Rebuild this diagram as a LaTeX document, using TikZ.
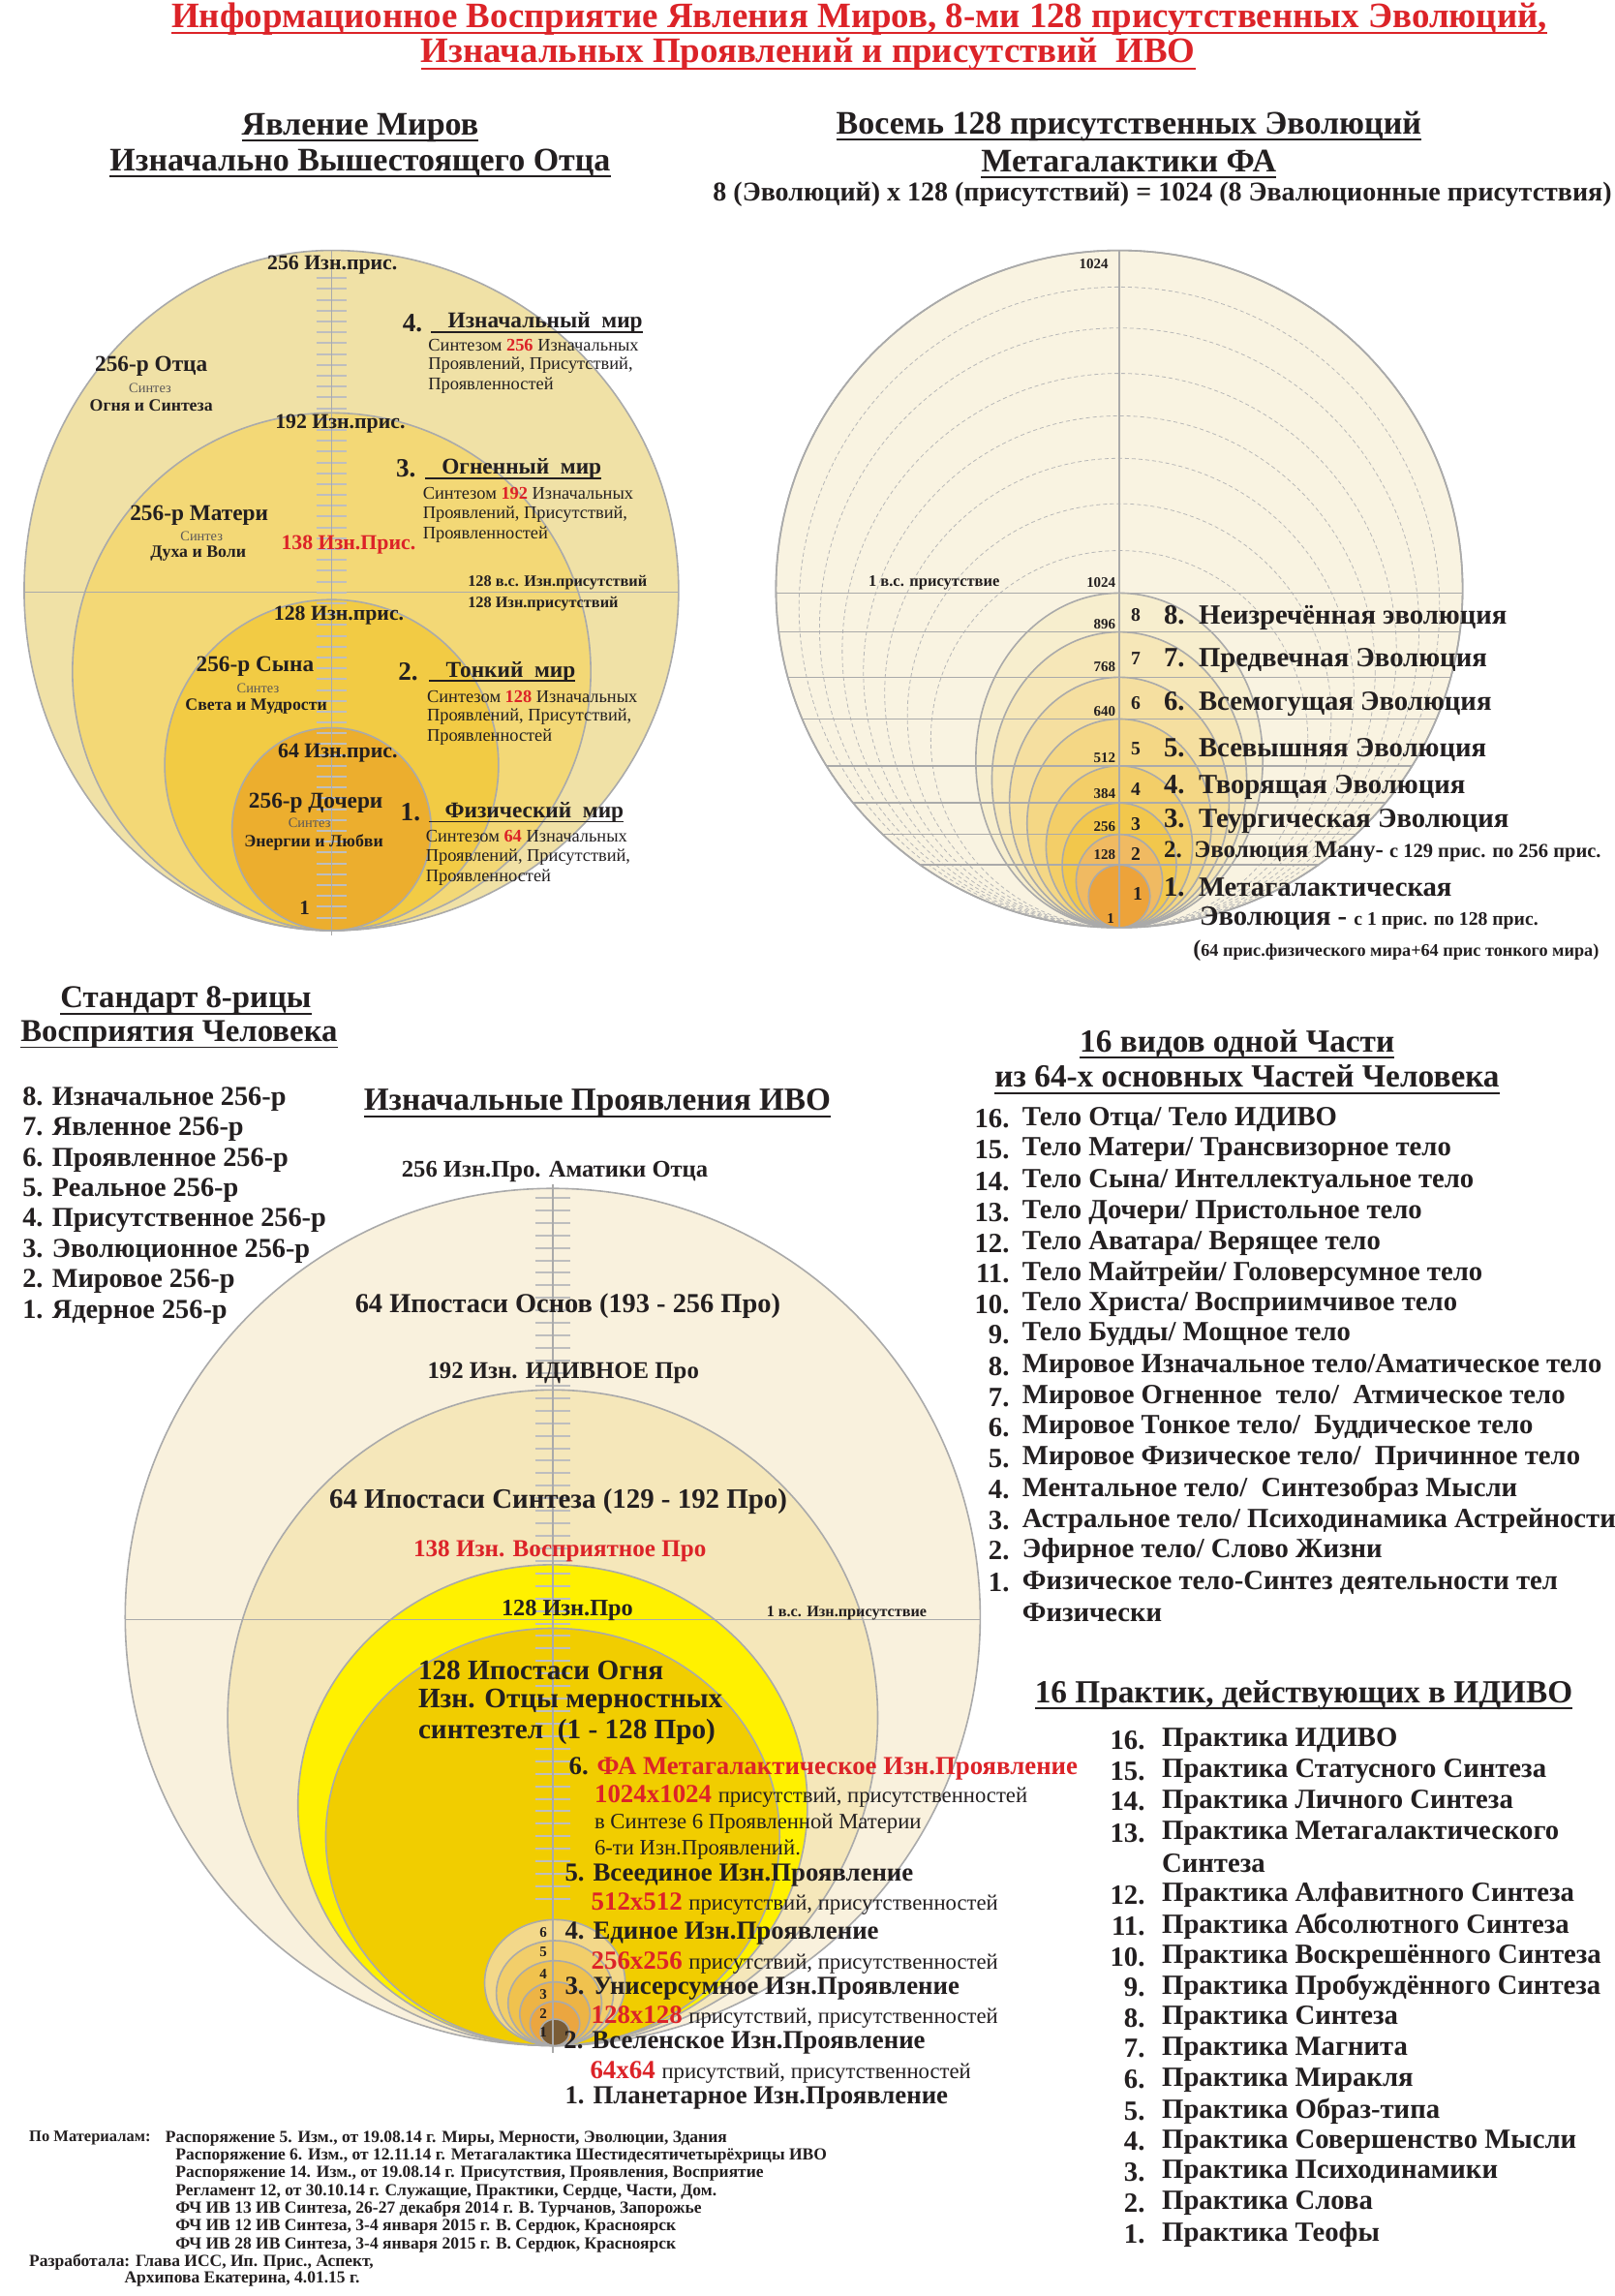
\documentclass[tikz,border=0pt]{standalone}
\usepackage{fontspec}
\setmainfont{Liberation Serif}
\newcommand\fsz[1]{\fontsize{#1}{#1}\selectfont}
\definecolor{ink}{RGB}{35,31,32}
\definecolor{lg}{RGB}{170,170,170}
\definecolor{tk}{RGB}{190,190,190}
\definecolor{rd}{RGB}{220,35,40}
\definecolor{tlA}{RGB}{240,225,166}
\definecolor{tlB}{RGB}{243,216,118}
\definecolor{tlC}{RGB}{242,203,68}
\definecolor{tlD}{RGB}{236,174,46}
\definecolor{trO}{RGB}{249,243,225}
\definecolor{evH}{RGB}{247,238,206}
\definecolor{evG}{RGB}{246,231,184}
\definecolor{evF}{RGB}{245,223,160}
\definecolor{evE}{RGB}{244,215,133}
\definecolor{evD}{RGB}{243,206,104}
\definecolor{evC}{RGB}{242,199,76}
\definecolor{evB}{RGB}{240,186,98}
\definecolor{evA}{RGB}{237,163,58}
\definecolor{lwA}{RGB}{249,241,221}
\definecolor{lwB}{RGB}{245,231,186}
\definecolor{lwY}{RGB}{255,241,0}
\definecolor{lwG}{RGB}{241,205,0}
\definecolor{smF}{RGB}{243,216,138}
\definecolor{smE}{RGB}{242,206,106}
\definecolor{smD}{RGB}{240,194,78}
\definecolor{smC}{RGB}{237,180,69}
\definecolor{smB}{RGB}{235,166,64}
\definecolor{smA}{RGB}{122,92,54}
\begin{document}
\begin{tikzpicture}[x=1.5122pt,y=-1.5122pt,
  every node/.style={inner sep=0pt,outer sep=0pt,text=ink},
  fb/.style={font=\bfseries\fsz{#1}},
  fr/.style={font=\fsz{#1}},
  outl/.style={draw=lg,line width=1.6pt},
  axl/.style={draw=lg,line width=1.6pt},
  tck/.style={draw=tk,line width=2pt},
  ulk/.style={draw=ink,line width=1.8pt},
  ulr/.style={draw=rd,line width=2pt},
  dsh/.style={draw=lg!85,line width=0.8pt,dash pattern=on 4pt off 3pt},
  syn/.style={fr=14.4,text=ink!75}
]
\fill[white] (0,0) rectangle (1103,1568);
\useasboundingbox (0,0) rectangle (1103,1568);

% ================= TITLES =================
\node[fb=36.9,text=rd] (t1) at (587,13) {Информационное Восприятие Явления Миров, 8-ми 128 присутственных Эволюций,};
\node[fb=36.9,text=rd] (t2) at (552,37) {Изначальных Проявлений и присутствий\ \ ИВО};
\draw[ulr] ([yshift=-6pt]t1.base west) -- ([yshift=-6pt]t1.base east);
\draw[ulr] ([yshift=-6pt]t2.base west) -- ([yshift=-6pt]t2.base east);

\node[fb=34] (h1) at (246,87) {Явление Миров};
\node[fb=34] (h2) at (246,111) {Изначально Вышестоящего Отца};
\node[fb=34] (h3) at (771,86) {Восемь 128 присутственных Эволюций};
\node[fb=34] (h4) at (771,110) {Метагалактики ФА};
\node[fb=28] (h5) at (794,133) {8 (Эволюций) х 128 (присутствий) = 1024 (8 Эвалюционные присутствия)};
\foreach \hh in {h1,h2,h3,h4}{\draw[ulk] ([yshift=-6pt]\hh.base west) -- ([yshift=-6pt]\hh.base east);}

% ================= TOP-LEFT: WORLDS =================
\path[fill=tlA,outl] (226.5,171) arc[start angle=-90,end angle=-270,x radius=210,y radius=232.25] arc[start angle=90,end angle=-90,x radius=237,y radius=232.25] -- cycle;
\path[fill=tlB,outl] (226.5,458.75) ellipse[x radius=177,y radius=176.75];
\path[fill=tlC,outl] (226.5,522.5) ellipse[x radius=114,y radius=113];
\path[fill=tlD,outl] (226.5,566.25) ellipse[x radius=68,y radius=69.25];
\draw[axl] (16.5,404.5) -- (463.5,404.5);
\foreach \kk in {0,...,59}{\pgfmathsetmacro\yy{190+7.4*\kk}\draw[tck] (216,\yy) -- (237,\yy);}
\draw[axl] (226.5,171) -- (226.5,639);

\node[fb=21.8] (tl256) at (227,181) {256 Изн.прис.};
\node[fb=21.8] (tl192) at (232.4,289.4) {192 Изн.прис.};
\node[fb=21.8] (tl128) at (231.5,420.2) {128 Изн.прис.};
\node[fb=21.8] (tl64) at (230.7,514) {64 Изн.прис.};
\node[fb=21] (tl1) at (208,620) {1};
\node[fb=21.8,text=rd] (tl138) at (238,372) {138 Изн.Прис.};
\node[fb=16.3,anchor=west] (tlv1) at (319.6,397.7) {128 в.с. Изн.присутствий};
\node[fb=16.3,anchor=west] (tlv2) at (319.6,412.5) {128 Изн.присутствий};

\node[fb=23.3] (f4a) at (103.3,250.4) {256-р Отца};
\node[syn] (f4b) at (102.5,264.8) {Синтез};
\node[fb=17.8] (f4c) at (103.3,277.1) {Огня и Синтеза};
\node[fb=23.3] (f3a) at (136,351.9) {256-р Матери};
\node[syn] (f3b) at (137.7,366.3) {Синтез};
\node[fb=17.8] (f3c) at (135.4,378) {Духа и Воли};
\node[fb=23.3] (f2a) at (174.2,454.9) {256-р Сына};
\node[syn] (f2b) at (176.2,470) {Синтез};
\node[fb=17.8] (f2c) at (175,482.3) {Света и Мудрости};
\node[fb=23.3] (f1a) at (215.7,548.7) {256-р Дочери};
\node[syn] (f1b) at (211.4,562.3) {Синтез};
\node[fb=17.8] (f1c) at (214.3,575.5) {Энергии и Любви};

\node[fb=27.2] (w4n) at (281.7,220.5) {4.};
\node[fb=23.3,anchor=west] (w4) at (306,220.5) {Изначальный\ \ мир};
\draw[ulk] (294.6,227) -- (w4.east |- 0,227);
\node[fr=18.4,anchor=west] (w4l1) at (292.6,235.6) {Синтезом \textcolor{rd}{\textbf{256}} Изначальных};
\node[fr=18.4,anchor=west] (w4l2) at (292.6,249.4) {Проявлений, Присутствий,};
\node[fr=18.4,anchor=west] (w4l3) at (292.6,263.3) {Проявленностей};

\node[fb=27.2] (w3n) at (277.3,320.2) {3.};
\node[fb=23.3,anchor=west] (w3) at (301.8,320.2) {Огненный\ \ мир};
\draw[ulk] (290.3,326.7) -- (w3.east |- 0,326.7);
\node[fr=18.4,anchor=west] (w3l1) at (288.9,337.1) {Синтезом \textcolor{rd}{\textbf{192}} Изначальных};
\node[fr=18.4,anchor=west] (w3l2) at (288.9,351.6) {Проявлений, Присутствий,};
\node[fr=18.4,anchor=west] (w3l3) at (288.9,365.4) {Проявленностей};

\node[fb=27.2] (w2n) at (278.8,458.6) {2.};
\node[fb=23.3,anchor=west] (w2) at (304.6,458.6) {Тонкий\ \ мир};
\draw[ulk] (293.2,465.1) -- (w2.east |- 0,465.1);
\node[fr=18.4,anchor=west] (w2l1) at (291.7,475.5) {Синтезом \textcolor{rd}{\textbf{128}} Изначальных};
\node[fr=18.4,anchor=west] (w2l2) at (291.7,489.4) {Проявлений, Присутствий,};
\node[fr=18.4,anchor=west] (w2l3) at (291.7,503.2) {Проявленностей};

\node[fb=27.2] (w1n) at (280.3,554.6) {1.};
\node[fb=23.3,anchor=west] (w1) at (304,554.6) {Физический\ \ мир};
\draw[ulk] (293.2,561.1) -- (w1.east |- 0,561.1);
\node[fr=18.4,anchor=west] (w1l1) at (290.9,570.9) {Синтезом \textcolor{rd}{\textbf{64}} Изначальных};
\node[fr=18.4,anchor=west] (w1l2) at (290.9,585.3) {Проявлений, Присутствий,};
\node[fr=18.4,anchor=west] (w1l3) at (290.9,599.2) {Проявленностей};

% ================= TOP-RIGHT: EVOLUTIONS =================
\path[fill=trO,outl] (764.5,402.25) ellipse[x radius=234.5,y radius=231.25];
\begin{scope}
\clip (764.5,402.25) ellipse[x radius=234.5,y radius=231.25];
\foreach \tp in {196,224,255,284,313,344,376}{\pgfmathsetmacro\rr{(633.5-\tp)/2}\pgfmathsetmacro\cy{\tp+\rr}\draw[dsh] (764.5,\cy) ellipse[x radius=\rr,y radius=\rr];}
\foreach \tp/\rx/\cc in {405/98/evH,431.6/87/evG,462.5/75/evF,491/63/evE,523/50/evD,548.4/39/evC,569.8/29.5/evB,590.7/21/evA}{\pgfmathsetmacro\ry{(633.5-\tp)/2}\pgfmathsetmacro\cy{\tp+\ry}\path[fill=\cc,outl] (764.5,\cy) ellipse[x radius=\rx,y radius=\ry];}
\foreach \tp in {405,431.6,462.5,491,523,548.4,569.8,590.7}{\draw[axl] (520,\tp) -- (1010,\tp);}
\end{scope}
\draw[outl] (764.5,402.25) ellipse[x radius=234.5,y radius=231.25];
\draw[axl] (764.5,171) -- (764.5,633.5);

\node[fb=15,anchor=east] (e1024a) at (757,180) {1024};
\node[fb=16.5] (evs) at (638,398) {1 в.с. присутствие};
\node[fb=15,anchor=east] (e1024b) at (762,398) {1024};
\node[fb=15,anchor=east] (e896) at (762,426.6) {896};
\node[fb=15,anchor=east] (e768) at (762,455.6) {768};
\node[fb=15,anchor=east] (e640) at (762,486) {640};
\node[fb=15,anchor=east] (e512) at (762,517.6) {512};
\node[fb=15,anchor=east] (e384) at (762,541.8) {384};
\node[fb=15,anchor=east] (e256) at (762,564.3) {256};
\node[fb=15,anchor=east] (e128) at (762,583.7) {128};
\node[fb=15] (e1) at (758.6,627) {1};
\node[fb=19.7] (d8) at (775.7,420) {8};
\node[fb=19.7] (d7) at (775.7,449.7) {7};
\node[fb=19.7] (d6) at (775.7,479.9) {6};
\node[fb=19.7] (d5) at (775.7,511.4) {5};
\node[fb=19.7] (d4) at (775.7,539) {4};
\node[fb=19.7] (d3) at (775.7,562.6) {3};
\node[fb=19.7] (d2) at (775.7,583) {2};
\node[fb=19.7] (d1) at (777,610.6) {1};
\node[fb=28.7,anchor=west] (n8) at (795,422) {8.\ \ Неизречённая эволюция};
\node[fb=28.7,anchor=west] (n7) at (795,451) {7.\ \ Предвечная Эволюция};
\node[fb=28.7,anchor=west] (n6) at (795,481) {6.\ \ Всемогущая Эволюция};
\node[fb=28.7,anchor=west] (n5) at (795,512) {5.\ \ Всевышняя Эволюция};
\node[fb=28.7,anchor=west] (n4) at (795,538) {4.\ \ Творящая Эволюция};
\node[fb=28.7,anchor=west] (n3) at (795,561) {3.\ \ Теургическая Эволюция};
\node[font=\bfseries,anchor=west] (n2) at (795,582) {\fsz{25}2.\ \ Эволюция Ману- \fsz{20.5}с 129 прис. по 256 прис.};
\node[fb=28.7,anchor=west] (n1) at (795,606) {1.\ \ Метагалактическая};
\node[font=\bfseries,anchor=west] (n1b) at (819.5,627) {\fsz{28.7}Эволюция - \fsz{19.7}с 1 прис. по 128 прис.};
\node[font=\bfseries,anchor=west] (n1c) at (815,649) {\fsz{24}(\fsz{18.2}64 прис.физического мира+64 прис тонкого мира)};

% ================= STANDARD 8 =================
\node[fb=32.8] (hs1) at (127,683.4) {Стандарт 8-рицы};
\node[fb=32.8] (hs2) at (122.3,706.5) {Восприятия Человека};
\draw[ulk] ([yshift=-6pt]hs1.base west) -- ([yshift=-6pt]hs1.base east);
\draw[ulk] ([yshift=-6pt]hs2.base west) -- ([yshift=-6pt]hs2.base east);
\node[fb=28.3,anchor=west] (s8) at (15.4,750.6) {8. Изначальное 256-р};
\node[fb=28.3,anchor=west] (s7) at (15.4,771.5) {7. Явленное 256-р};
\node[fb=28.3,anchor=west] (s6) at (15.4,792.4) {6. Проявленное 256-р};
\node[fb=28.3,anchor=west] (s5) at (15.4,813) {5. Реальное 256-р};
\node[fb=28.3,anchor=west] (s4) at (15.4,833.7) {4. Присутственное 256-р};
\node[fb=28.3,anchor=west] (s3) at (15.4,854.6) {3. Эволюционное 256-р};
\node[fb=28.3,anchor=west] (s2) at (15.4,875.1) {2. Мировое 256-р};
\node[fb=28.3,anchor=west] (s1) at (15.4,896) {1. Ядерное 256-р};

% ================= LOWER: MANIFESTATIONS =================
\node[fb=33.3] (hl) at (408,753.5) {Изначальные Проявления ИВО};
\draw[ulk] ([yshift=-6pt]hl.base west) -- ([yshift=-6pt]hl.base east);

\path[fill=lwA,outl] (377.5,1104.3) ellipse[x radius=292,y radius=292.7];
\path[fill=lwB,outl] (377.5,1173.1) ellipse[x radius=222,y radius=223.9];
\path[fill=lwY,outl] (377.5,1232.8) ellipse[x radius=174,y radius=164.2];
\path[fill=lwG,outl] (377.5,1254.5) ellipse[x radius=155,y radius=142.5];
\foreach \tp/\rx/\cc in {1311/48/smF,1325.3/40/smE,1339/32/smD,1353.5/24/smC,1366.8/17/smB,1378.9/10/smA}{\pgfmathsetmacro\ry{(1397-\tp)/2}\pgfmathsetmacro\cy{\tp+\ry}\path[fill=\cc,outl] (379,\cy) ellipse[x radius=\rx,y radius=\ry];}
\draw[axl] (85.5,1106) -- (669.5,1106);
\foreach \kk in {0,...,56}{\pgfmathsetmacro\yy{818+8.55*\kk}\draw[tck] (365.5,\yy) -- (389.5,\yy);}
\draw[axl] (377.5,808.5) -- (377.5,1402);

\node[fb=24.6] (p256) at (379,800) {256 Изн.Про. Аматики Отца};
\node[fb=28.4] (p64a) at (387.8,892.1) {64 Ипостаси Основ (193 - 256 Про)};
\node[fb=24.8] (p192) at (384.7,938) {192 Изн. ИДИВНОЕ Про};
\node[fb=28.9] (p64b) at (381.3,1025.5) {64 Ипостаси Синтеза (129 - 192 Про)};
\node[fb=25.1,text=rd] (p138) at (382.4,1059) {138 Изн. Восприятное Про};
\node[fb=24.3] (p128) at (387.5,1100) {128 Изн.Про};
\node[fb=16.2] (pvs) at (578.3,1102) {1 в.с. Изн.присутствие};
\node[fb=29.2,anchor=west] (pf1) at (285.7,1140.7) {128 Ипостаси Огня};
\node[fb=29.2,anchor=west] (pf2) at (285.7,1161.7) {Изн. Отцы мерностных};
\node[fb=29.2,anchor=west] (pf3) at (285.7,1182.6) {синтезтел\ \ (1 - 128 Про)};

\node[fb=15] (q6) at (371,1320) {6};
\node[fb=15] (q5) at (371,1333) {5};
\node[fb=15] (q4) at (371,1348) {4};
\node[fb=15] (q3) at (371,1362) {3};
\node[fb=15] (q2) at (371,1375.5) {2};
\node[fb=15] (q1) at (371,1387.6) {1};

\node[fb=26.8,anchor=west] (m6) at (388.6,1208) {6. \textcolor{rd}{ФА Метагалактическое Изн.Проявление}};
\node[anchor=west] (m6a) at (406.1,1226.7) {\fsz{26.9}\bfseries\textcolor{rd}{1024x1024} \mdseries\fsz{22.7}присутствий, присутственностей};
\node[fr=22.7,anchor=west] (m6b) at (406.1,1245.4) {в Синтезе 6 Проявленной Материи};
\node[fr=22.7,anchor=west] (m6c) at (406.1,1263) {6-ти Изн.Проявлений.};
\node[fb=26.8,anchor=west] (m5) at (385.9,1280.7) {5. Всеединое Изн.Проявление};
\node[anchor=west] (m5a) at (403.8,1300.5) {\fsz{26.9}\bfseries\textcolor{rd}{512x512} \mdseries\fsz{22.7}присутствий, присутственностей};
\node[fb=26.8,anchor=west] (m4) at (385.9,1320.4) {4. Единое Изн.Проявление};
\node[anchor=west] (m4a) at (403.8,1340.2) {\fsz{26.9}\bfseries\textcolor{rd}{256x256} \mdseries\fsz{22.7}присутствий, присутственностей};
\node[fb=26.8,anchor=west] (m3) at (385.9,1357.8) {3. Унисерсумное Изн.Проявление};
\node[anchor=west] (m3a) at (403.8,1377.7) {\fsz{26.9}\bfseries\textcolor{rd}{128x128} \mdseries\fsz{22.7}присутствий, присутственностей};
\node[fb=26.8,anchor=west] (m2) at (385.2,1395.3) {2. Вселенское Изн.Проявление};
\node[anchor=west] (m2a) at (403.1,1415.1) {\fsz{26.9}\bfseries\textcolor{rd}{64x64} \mdseries\fsz{22.7}присутствий, присутственностей};
\node[fb=26.8,anchor=west] (m1) at (385.9,1432.8) {1. Планетарное Изн.Проявление};

% ================= 16 KINDS =================
\node[fb=33.3] (hv1) at (845,712.7) {16 видов одной Части};
\node[fb=33.3] (hv2) at (851.8,735) {из 64-х основных Частей Человека};
\draw[ulk] ([yshift=-6pt]hv1.base west) -- ([yshift=-6pt]hv1.base east);
\draw[ulk] ([yshift=-6pt]hv2.base west) -- ([yshift=-6pt]hv2.base east);
\foreach \nn/\yy/\txt in {16/764.2/Тело Отца{/} Тело ИДИВО,15/785.1/Тело Матери{/} Трансвизорное тело,14/806.8/Тело Сына{/} Интеллектуальное тело,13/828.2/Тело Дочери{/} Пристольное тело,12/849.1/Тело Аватара{/} Верящее тело,11/870/Тело Майтрейи{/} Головерсумное тело,10/890.9/Тело Христа{/} Восприимчивое тело,9/911.7/Тело Будды{/} Мощное тело,8/933.2/Мировое Изначальное тело{/}Аматическое тело,7/954.3/Мировое Огненное\ \ тело{/}\ \ Атмическое тело,6/975.2/Мировое Тонкое тело{/}\ \ Буддическое тело,5/996.1/Мировое Физическое тело{/}\ \ Причинное тело,4/1017.5/Ментальное тело{/}\ \ Синтезобраз Мысли,3/1038.4/Астральное тело{/} Психодинамика Астрейности,2/1059.2/Эфирное тело{/} Слово Жизни,1/1080.7/Физическое тело-Синтез деятельности тел}{
  \node[fb=28.7,anchor=east] (vn\nn) at (689.4,\yy) {\nn.};
  \node[fb=28.7,anchor=west] (vt\nn) at (698.3,\yy) {\txt};
}
\node[fb=28.7,anchor=west] (vt0) at (698.3,1101) {Физически};

% ================= 16 PRACTICES =================
\node[fb=33.3] (hp) at (890.5,1157.6) {16 Практик, действующих в ИДИВО};
\draw[ulk] ([yshift=-6pt]hp.base west) -- ([yshift=-6pt]hp.base east);
\foreach \nn/\yy/\txt in {16/1188.7/Практика ИДИВО,15/1209.7/Практика Статусного Синтеза,14/1230.5/Практика Личного Синтеза,13/1252.1/Практика Метагалактического,12/1294/Практика Алфавитного Синтеза,11/1315.5/Практика Абсолютного Синтеза,10/1336.6/Практика Воскрешённого Синтеза,9/1357.4/Практика Пробуждённого Синтеза,8/1378.4/Практика Синтеза,7/1399.2/Практика Магнита,6/1420.3/Практика Миракля,5/1441.6/Практика Образ-типа,4/1462.6/Практика Совершенство Мысли,3/1483.7/Практика Психодинамики,2/1504.5/Практика Слова,1/1526.1/Практика Теофы}{
  \node[fb=28.7,anchor=east] (pn\nn) at (782,\yy) {\nn.};
  \node[fb=28.7,anchor=west] (pt\nn) at (793.7,\yy) {\txt};
}
\node[fb=28.7,anchor=west] (pt0) at (793.7,1272.4) {Синтеза};

% ================= FOOTNOTES =================
\node[fb=16.5,anchor=west] (r0) at (20,1460.4) {По Материалам:};
\node[fb=17.5,anchor=west] (r1) at (113,1460.4) {Распоряжение 5. Изм., от 19.08.14 г. Миры, Мерности, Эволюции, Здания};
\node[fb=17.5,anchor=west] (r2) at (120,1472.5) {Распоряжение 6. Изм., от 12.11.14 г. Метагалактика Шестидесятичетырёхрицы ИВО};
\node[fb=17.5,anchor=west] (r3) at (120,1484.6) {Распоряжение 14. Изм., от 19.08.14 г. Присутствия, Проявления, Восприятие};
\node[fb=17.5,anchor=west] (r4) at (120,1496.7) {Регламент 12, от 30.10.14 г. Служащие, Практики, Сердце, Части, Дом.};
\node[fb=17.5,anchor=west] (r5) at (120,1508.8) {ФЧ ИВ 13 ИВ Синтеза, 26-27 декабря 2014 г. В. Турчанов, Запорожье};
\node[fb=17.5,anchor=west] (r6) at (120,1521) {ФЧ ИВ 12 ИВ Синтеза, 3-4 января 2015 г. В. Сердюк, Красноярск};
\node[fb=17.5,anchor=west] (r7) at (120,1533.1) {ФЧ ИВ 28 ИВ Синтеза, 3-4 января 2015 г. В. Сердюк, Красноярск};
\node[fb=17.5,anchor=west] (r8) at (20,1545.2) {Разработала: Глава ИСС, Ип. Прис., Аспект,};
\node[fb=17.5,anchor=west] (r9) at (85,1556.7) {Архипова Екатерина, 4.01.15 г.};
\end{tikzpicture}
\end{document}
